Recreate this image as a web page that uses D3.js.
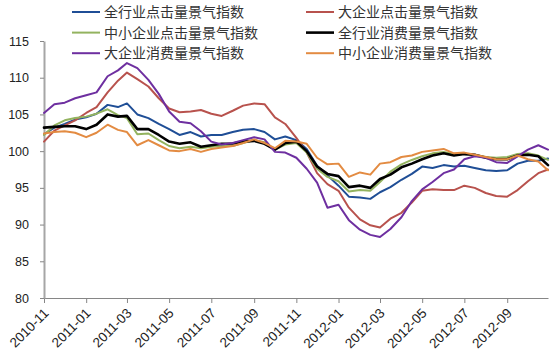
<!DOCTYPE html>
<html>
<head>
<meta charset="utf-8">
<script src="https://cdn.jsdelivr.net/npm/d3@7"></script>
<style>
  html, body { margin: 0; padding: 0; background: #fff; }
  svg { display: block; font-family: "Liberation Sans", Arial, sans-serif; }
</style>
</head>
<body>
<svg id="chart" width="558" height="352"></svg>
<script>
const dates = [
  '2010-11-01', '2010-11-16', '2010-12-01', '2010-12-16',
  '2011-01-01', '2011-01-16', '2011-02-01', '2011-02-16', '2011-03-01', '2011-03-16',
  '2011-04-01', '2011-04-16', '2011-05-01', '2011-05-16', '2011-06-01', '2011-06-16',
  '2011-07-01', '2011-07-16', '2011-08-01', '2011-08-16', '2011-09-01', '2011-09-16',
  '2011-10-01', '2011-10-16', '2011-11-01', '2011-11-16', '2011-12-01', '2011-12-16',
  '2012-01-01', '2012-01-16', '2012-02-01', '2012-02-16', '2012-03-01', '2012-03-16',
  '2012-04-01', '2012-04-16', '2012-05-01', '2012-05-16', '2012-06-01', '2012-06-16',
  '2012-07-01', '2012-07-16', '2012-08-01', '2012-08-16', '2012-09-01', '2012-09-16',
  '2012-10-01', '2012-10-16', '2012-10-30'
];

const allClick = [
  102.3, 103.2, 103.7, 104.3, 104.6, 105.1, 106.3, 106.0, 106.5, 105.0,
  104.5, 103.7, 103.0, 102.2, 102.6, 102.0, 102.2, 102.2, 102.6, 102.9,
  103.0, 102.6, 101.6, 102.0, 101.5, 100.3, 98.0, 96.7, 95.3, 93.8,
  93.7, 93.5, 94.4, 95.1, 96.1, 96.9, 97.9, 97.7, 98.1, 97.9,
  98.0, 97.7, 97.4, 97.3, 97.4, 98.3, 98.7, 98.7, 99.0
];
const bigClick = [
  101.3, 102.8, 103.5, 104.2, 105.2, 106.0, 108.0, 109.6, 110.7, 109.8,
  108.8, 107.2, 105.8, 105.3, 105.4, 105.6, 105.1, 104.8, 105.5, 106.2,
  106.5, 106.4, 104.6, 103.7, 101.8, 99.8, 97.0, 95.5, 94.6, 92.3,
  90.7, 89.9, 89.6, 90.8, 91.6, 93.0, 94.6, 94.8, 94.7, 94.7,
  95.3, 95.0, 94.3, 93.9, 93.8, 94.7, 95.9, 97.0, 97.5
];
const smallClick = [
  102.2, 103.5, 104.2, 104.5, 104.7, 105.1, 105.7, 104.9, 104.5, 102.3,
  102.4, 101.5, 100.7, 100.4, 100.6, 100.4, 100.6, 100.7, 100.7, 101.1,
  101.5, 101.2, 100.2, 100.9, 101.1, 99.8, 97.6, 96.5, 95.9, 94.5,
  94.7, 94.6, 95.8, 97.2, 98.2, 98.8, 99.3, 99.7, 99.9, 99.6,
  99.6, 99.5, 99.2, 99.1, 99.2, 99.6, 99.7, 99.4, 98.8
];
const allSpend = [
  103.2, 103.3, 103.4, 103.4, 103.0, 103.6, 105.0, 104.7, 104.8, 103.0,
  103.0, 102.2, 101.3, 101.0, 101.2, 100.6, 100.8, 101.0, 101.05, 101.3,
  101.4, 101.0, 100.2, 101.1, 101.3, 100.0, 97.9, 96.9, 96.6, 95.1,
  95.3, 95.0, 96.2, 96.8, 97.8, 98.3, 98.9, 99.4, 99.7, 99.4,
  99.6, 99.5, 99.1, 98.9, 98.9, 99.4, 99.5, 99.3, 98.1
];
const bigSpend = [
  105.2, 106.4, 106.6, 107.2, 107.6, 108.0, 110.2, 111.0, 112.0, 111.3,
  109.7, 107.8, 105.4, 104.0, 103.8, 102.7, 101.3, 100.9, 101.1, 101.5,
  101.9, 101.6, 99.9, 99.8, 99.1, 97.6, 95.7, 92.3, 92.7, 90.6,
  89.3, 88.6, 88.3, 89.4, 91.0, 93.2, 94.8, 95.8, 97.0, 97.5,
  98.9, 99.3, 99.1, 98.5, 98.4, 99.3, 100.2, 100.8, 100.2
];
const smallSpend = [
  102.4, 102.6, 102.7, 102.5, 101.9, 102.5, 103.6, 102.9, 102.6, 100.8,
  101.5, 100.8, 100.1, 100.0, 100.3, 99.9, 100.3, 100.5, 100.7, 101.1,
  101.6, 101.1, 100.4, 101.4, 101.3, 101.0, 99.1, 98.2, 98.3, 96.5,
  97.1, 96.8, 98.3, 98.5, 99.2, 99.4, 99.9, 100.1, 100.3, 99.7,
  99.8, 99.5, 99.2, 98.9, 98.9, 99.4, 98.9, 98.6, 97.4
];

const seriesNames = [
  '全行业点击量景气指数', '大企业点击量景气指数',
  '中小企业点击量景气指数', '全行业消费量景气指数',
  '大企业消费量景气指数', '中小企业消费量景气指数'
];
const seriesValues = [allClick, bigClick, smallClick, allSpend, bigSpend, smallSpend];
const seriesColors = ['#1f4e96', '#b8524d', '#93b35f', '#000000', '#6e2fa0', '#e38b42'];
const yTicks = [80, 85, 90, 95, 100, 105, 110, 115];

const width = 558;
const height = 352;
const margin = {top: 41, right: 10, bottom: 54, left: 44};

const parse = d3.timeParse('%Y-%m-%d');
const time = dates.map(parse);

const x = d3
  .scaleTime()
  .domain([time[0], time[time.length - 1]])
  .range([margin.left, width - margin.right]);

const y = d3
  .scaleLinear()
  .domain([80, 115])
  .range([height - margin.bottom, margin.top]);

const svg = d3.select('#chart').attr('viewBox', [0, 0, width, height]);

const xAxis = svg
  .append('g')
  .attr('transform', `translate(0,${height - margin.bottom})`)
  .call(
    d3.axisBottom(x)
      .ticks(d3.timeMonth.every(2))
      .tickFormat(d3.timeFormat('%Y-%m'))
      .tickSize(5)
      .tickSizeOuter(0)
  );
xAxis.select('.domain').attr('stroke', '#868686');
xAxis.selectAll('.tick line').attr('stroke', '#868686');
xAxis
  .selectAll('.tick text')
  .attr('fill', '#222')
  .attr('font-size', 13.5)
  .attr('text-anchor', 'end')
  .attr('transform', 'translate(5,16) rotate(-45)')
  .attr('dy', 0)
  .attr('y', 0)
  .attr('x', 0);

const yAxis = svg
  .append('g')
  .attr('transform', `translate(${margin.left},0)`)
  .call(d3.axisLeft(y).tickValues(yTicks).tickSize(4).tickSizeOuter(0));
yAxis.select('.domain').attr('stroke', '#a6a6a6').attr('stroke-width', 2);
yAxis.selectAll('.tick line').attr('stroke', '#868686');
yAxis
  .selectAll('.tick text')
  .attr('fill', '#222')
  .attr('font-size', 12.5)
  .attr('x', -15);

const line = d3
  .line()
  .x((d, i) => x(time[i]))
  .y(d => y(d));

svg
  .append('g')
  .attr('fill', 'none')
  .attr('stroke-linejoin', 'round')
  .attr('stroke-linecap', 'round')
  .selectAll('path')
  .data(seriesValues)
  .join('path')
  .attr('stroke', (d, i) => seriesColors[i])
  .attr('stroke-width', (d, i) => (i === 3 ? 2.6 : 2))
  .attr('d', line);

const legend = svg
  .append('g')
  .selectAll('g')
  .data(seriesNames)
  .join('g')
  .attr('transform', (d, i) => `translate(${i % 2 ? 306 : 72},${12 + Math.floor(i / 2) * 20.6})`);

legend
  .append('line')
  .attr('x2', 28)
  .attr('stroke', (d, i) => seriesColors[i])
  .attr('stroke-width', (d, i) => (i === 3 ? 2.6 : 2));

legend
  .append('text')
  .attr('x', 32)
  .attr('dy', '0.35em')
  .attr('fill', '#333')
  .attr('font-size', 14)
  .attr('font-family', '"Noto Sans CJK SC", sans-serif')
  .text(d => d);
</script>
</body>
</html>
